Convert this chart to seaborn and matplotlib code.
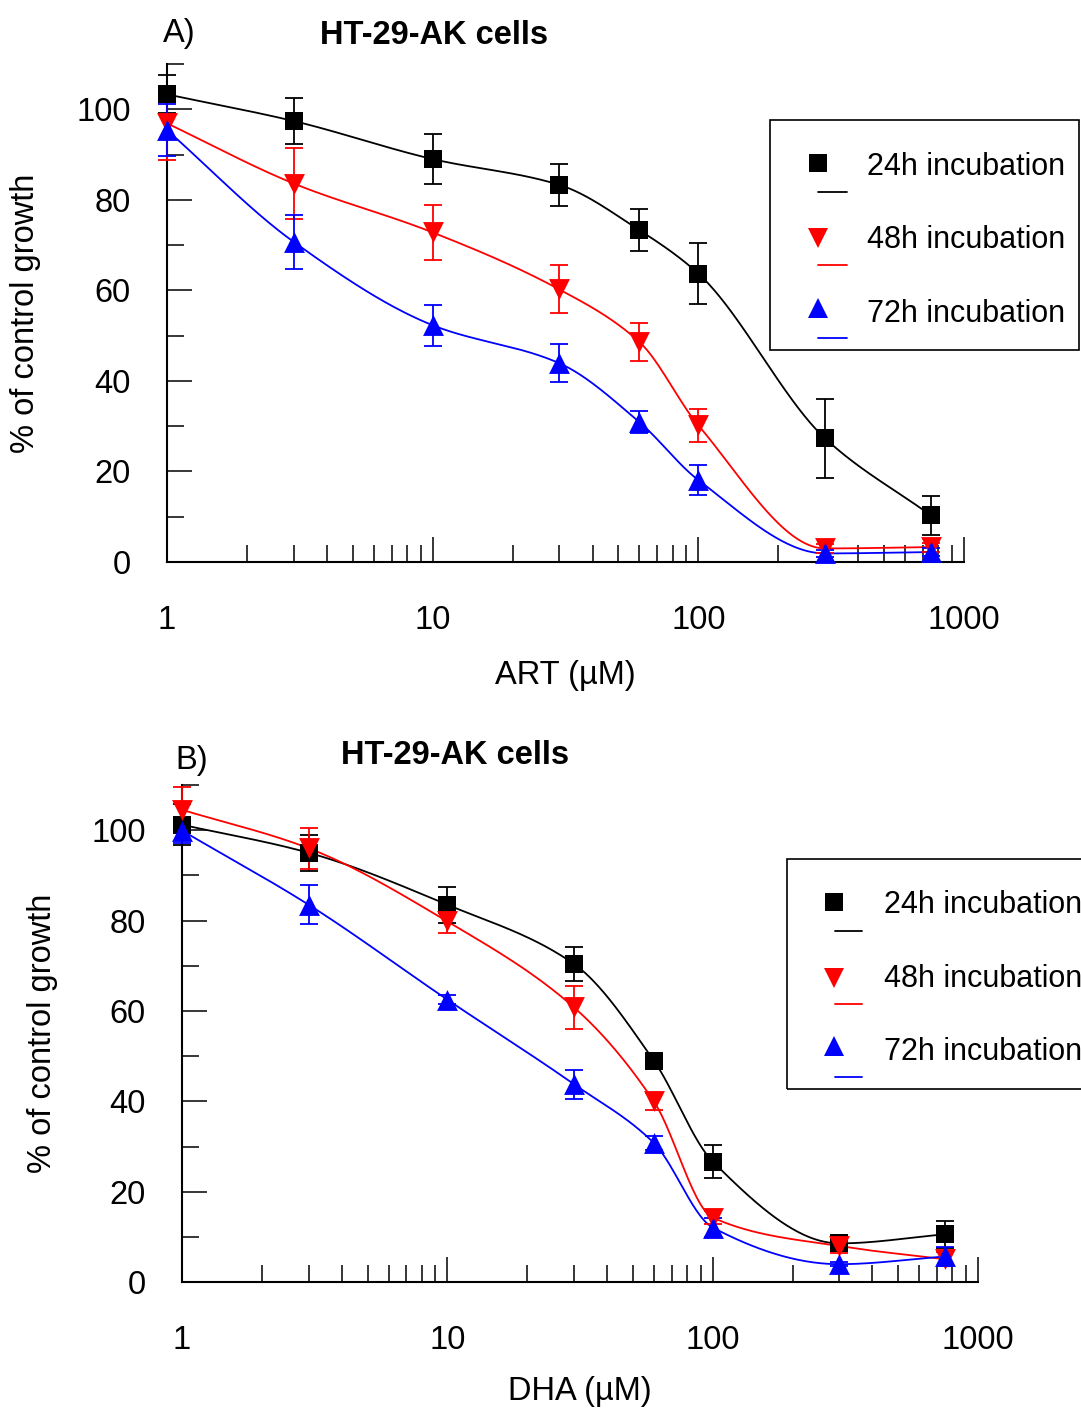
import numpy as np
import pandas as pd
import matplotlib
matplotlib.use("Agg")
import matplotlib.pyplot as plt
import seaborn as sns
from matplotlib.patches import Rectangle
from matplotlib.ticker import (FixedLocator, LogLocator, MultipleLocator,
                               FuncFormatter, NullFormatter)

# ---------------------------------------------------------------- data
series_labels = ["24h incubation", "48h incubation", "72h incubation"]
series_colors = ["#000000", "#ff0000", "#0000ff"]
series_markers = ["s", "v", "^"]

# Panel A: artesunate (ART)
art_conc = [1, 3, 10, 30, 60, 100, 300, 750]
art_24h = [103.3, 97.4, 89.0, 83.3, 73.3, 63.7, 27.3, 10.3]
art_24h_err = [4.2, 5.0, 5.5, 4.7, 4.7, 6.7, 8.7, 4.3]
art_48h = [96.9, 83.6, 72.8, 60.2, 48.6, 30.2, 3.0, 3.3]
art_48h_err = [8.0, 7.8, 6.0, 5.3, 4.3, 3.7, 1.0, 1.0]
art_72h = [95.4, 70.7, 52.3, 43.9, 30.9, 18.1, 1.9, 2.2]
art_72h_err = [5.8, 5.9, 4.5, 4.2, 2.4, 3.3, 0.8, 0.8]

# Panel B: dihydroartemisinin (DHA)
dha_conc = [1, 3, 10, 30, 60, 100, 300, 750]
dha_24h = [101.2, 95.0, 83.5, 70.4, 49.0, 26.7, 8.6, 10.6]
dha_24h_err = [4.5, 4.0, 4.0, 3.8, 1.0, 3.7, 1.5, 3.0]
dha_48h = [104.5, 96.0, 79.8, 60.8, 40.0, 14.3, 8.0, 5.1]
dha_48h_err = [5.0, 4.5, 2.5, 4.8, 1.8, 1.5, 1.5, 1.5]
dha_72h = [99.9, 83.5, 62.5, 43.8, 30.8, 12.1, 4.0, 5.7]
dha_72h_err = [2.8, 4.3, 1.0, 3.2, 1.5, 2.2, 0.5, 2.0]

FS = 23.5      # general font size (pt)
LEG_FS = 22    # legend font size (pt)
LW = 1.3       # curve / error-bar width


def smooth_curve(conc, vals, n=400):
    """Monotone cubic (Fritsch-Carlson) curve through the points in log-x."""
    x = np.log10(np.asarray(conc, float))
    y = np.asarray(vals, float)
    h = np.diff(x)
    d = np.diff(y) / h
    m = np.zeros_like(y)
    m[0], m[-1] = d[0], d[-1]
    for k in range(1, len(y) - 1):
        if d[k - 1] * d[k] <= 0:
            m[k] = 0.0
        else:
            w1 = 2 * h[k] + h[k - 1]
            w2 = h[k] + 2 * h[k - 1]
            m[k] = (w1 + w2) / (w1 / d[k - 1] + w2 / d[k])
    xs = np.linspace(x[0], x[-1], n)
    idx = np.clip(np.searchsorted(x, xs) - 1, 0, len(h) - 1)
    t = (xs - x[idx]) / h[idx]
    h00 = 2 * t**3 - 3 * t**2 + 1
    h10 = t**3 - 2 * t**2 + t
    h01 = -2 * t**3 + 3 * t**2
    h11 = t**3 - t**2
    ys = (h00 * y[idx] + h10 * h[idx] * m[idx]
          + h01 * y[idx + 1] + h11 * h[idx] * m[idx + 1])
    return pd.DataFrame({"conc": 10**xs, "growth": ys})


sns.set_theme(style="white")
plt.rcParams["font.family"] = ["Liberation Sans", "DejaVu Sans"]
plt.rcParams.update({
    "text.color": "black", "axes.labelcolor": "black",
    "xtick.color": "black", "ytick.color": "black",
    "axes.edgecolor": "black",
})

fig = plt.figure(figsize=(10.81, 14.10), dpi=100)
ax_a = fig.add_axes([0.1545, 0.6014, 0.7373, 0.3532])
ax_b = fig.add_axes([0.1684, 0.0906, 0.7364, 0.3527])


def draw_panel(ax, conc, values, errors):
    for vals, errs, col, mk in zip(values, errors, series_colors, series_markers):
        curve = smooth_curve(conc, vals)
        sns.lineplot(data=curve, x="conc", y="growth", ax=ax, color=col,
                     linewidth=LW, estimator=None, sort=False, zorder=3)
        ax.errorbar(conc, vals, yerr=errs, fmt="none", ecolor=col,
                    elinewidth=LW, capsize=6.5, capthick=LW, zorder=4,
                    clip_on=False)
        size = 13 ** 2 if mk == "s" else 15 ** 2
        sns.scatterplot(x=conc, y=vals, ax=ax, marker=mk, s=size, color=col,
                        linewidth=0, zorder=5, clip_on=False)


def style_axes(ax, xlabel, xlab_y, ylab_x):
    ax.set_xscale("log")
    ax.set_xlim(1, 1000)
    ax.set_ylim(0, 110)
    ax.xaxis.set_major_locator(FixedLocator([1, 10, 100, 1000]))
    ax.xaxis.set_minor_locator(LogLocator(base=10, subs=np.arange(2, 10), numticks=20))
    ax.xaxis.set_major_formatter(FuncFormatter(lambda v, p: f"{v:g}"))
    ax.xaxis.set_minor_formatter(NullFormatter())
    ax.yaxis.set_major_locator(MultipleLocator(20))
    ax.yaxis.set_minor_locator(MultipleLocator(10))
    ax.yaxis.set_minor_formatter(NullFormatter())
    ax.tick_params(which="both", direction="in", width=1.1, colors="black",
                   labelsize=FS)
    ax.tick_params(which="major", length=18)
    ax.tick_params(which="minor", length=12)
    ax.tick_params(axis="x", which="both", pad=31, top=False, bottom=True)
    ax.tick_params(axis="y", which="both", pad=26, right=False, left=True)
    for side in ("top", "right"):
        ax.spines[side].set_visible(False)
    for side in ("left", "bottom"):
        ax.spines[side].set_linewidth(1.5)
        ax.spines[side].set_color("black")
    ax.set_xlabel(xlabel, fontsize=FS, va="center")
    ax.xaxis.set_label_coords(0.5, xlab_y)
    ax.set_ylabel("% of control growth", fontsize=FS, va="center")
    ax.yaxis.set_label_coords(ylab_x, 0.5)
    ax.grid(False)


def draw_key(ax, box, mk_x, rows, line_x, line_rows, text_x, text_rows):
    x0, y0, x1, y1 = box
    ax.add_patch(Rectangle((x0, y0), x1 - x0, y1 - y0, transform=ax.transAxes,
                           fill=False, edgecolor="black", linewidth=1.2,
                           clip_on=False, zorder=6))
    for lab, col, mk, ry, ly, ty in zip(series_labels, series_colors,
                                         series_markers, rows, line_rows, text_rows):
        size = 13 if mk == "s" else 15
        ax.plot([mk_x], [ry], marker=mk, markersize=size, color=col,
                linestyle="none", markeredgewidth=0, transform=ax.transAxes,
                clip_on=False, zorder=7)
        ax.plot(line_x, [ly, ly], color=col, linewidth=LW,
                transform=ax.transAxes, clip_on=False, zorder=7)
        ax.text(text_x, ty, lab, fontsize=LEG_FS, ha="left", va="baseline",
                transform=ax.transAxes, clip_on=False, zorder=7)


draw_panel(ax_a, art_conc, [art_24h, art_48h, art_72h],
           [art_24h_err, art_48h_err, art_72h_err])
style_axes(ax_a, "ART (µM)", -0.227, -0.177)
draw_key(ax_a, (0.7566, 0.4257, 1.1443, 0.8876), 0.8168,
         [0.8012, 0.6506, 0.5100], [0.8168, 0.8532],
         [0.7430, 0.5964, 0.4498], 0.8783, [0.777, 0.6305, 0.4819])

draw_panel(ax_b, dha_conc, [dha_24h, dha_48h, dha_72h],
           [dha_24h_err, dha_48h_err, dha_72h_err])
style_axes(ax_b, "DHA (µM)", -0.2206, -0.1759)
draw_key(ax_b, (0.7601, 0.3887, 1.16, 0.8512), 0.8191,
         [0.7648, 0.6119, 0.4752], [0.8204, 0.8543],
         [0.7065, 0.5597, 0.4129], 0.8819, [0.742, 0.5944, 0.447])

# Panel letters and titles
fig.text(179 / 1081, 1 - 33.5 / 1410, "A)", fontsize=FS, ha="center", va="center")
fig.text(434 / 1081, 1 - 35 / 1410, "HT-29-AK cells", fontsize=FS,
         fontweight="bold", ha="center", va="center")
fig.text(192 / 1081, 1 - 761 / 1410, "B)", fontsize=FS, ha="center", va="center")
fig.text(455 / 1081, 1 - 756 / 1410, "HT-29-AK cells", fontsize=FS,
         fontweight="bold", ha="center", va="center")

fig.savefig("out.png", dpi=100, facecolor="white")
